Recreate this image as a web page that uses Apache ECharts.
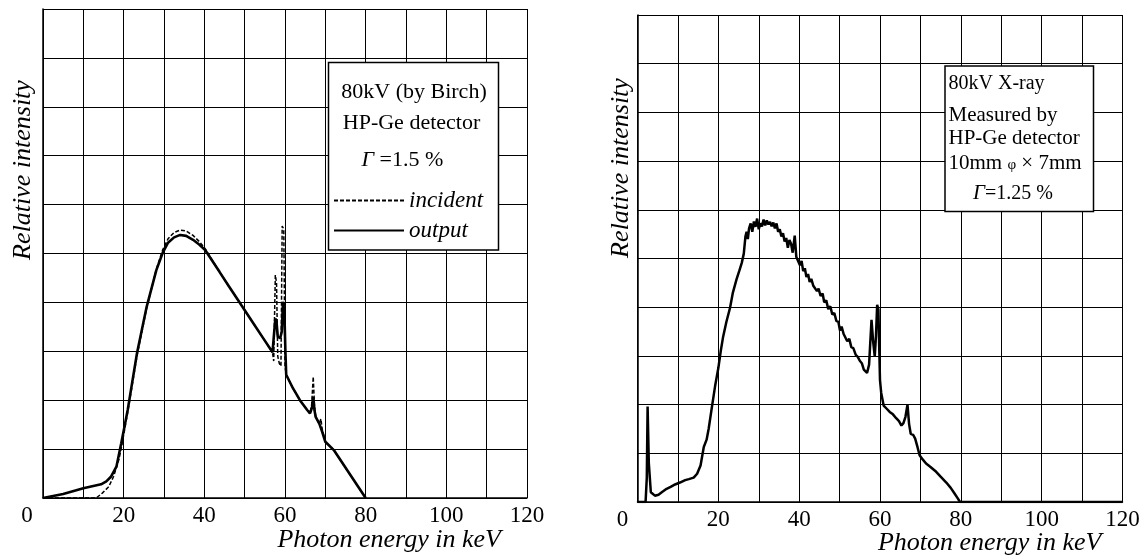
<!DOCTYPE html>
<html>
<head>
<meta charset="utf-8">
<script src="https://cdn.jsdelivr.net/npm/echarts@6/dist/echarts.min.js"></script>
<style>
  html, body { margin: 0; padding: 0; background: #ffffff; }
  #chart { width: 1148px; height: 559px; }
</style>
</head>
<body>
<div id="chart"></div>
<script>
// ---- Data -------------------------------------------------------------
// Energy axis (keV) and its labelled ticks
const energyTicks = [0, 20, 40, 60, 80, 100, 120];

// Left panel: 80 kV spectrum after Birch, incident and detector output
const incidentKeV = [0, 13.2, 14.7, 16.3, 17.5, 18.8, 19.6, 21.0, 23.3, 25.7, 28.1, 29.7, 31.0, 32.5, 34.0, 35.5, 37.2, 38.8, 40.2, 43.8, 46.0, 49.2, 52.1, 54.5, 56.9, 57.2, 57.6, 57.9, 58.2, 58.6, 59.0, 59.3, 59.7, 60.0, 60.3, 62.0, 63.7, 65.5, 66.2, 66.6, 67.0, 67.3, 67.6, 68.5, 68.9, 69.2, 70.0, 72.1, 80.0];
const incidentVal = [0, 0, 0.10, 0.23, 0.44, 0.78, 1.10, 1.75, 2.90, 3.88, 4.68, 5.08, 5.30, 5.43, 5.48, 5.46, 5.37, 5.24, 5.10, 4.62, 4.34, 3.94, 3.58, 3.28, 2.98, 2.80, 4.56, 4.40, 2.90, 2.75, 2.70, 5.56, 5.50, 2.70, 2.52, 2.24, 2.00, 1.80, 1.73, 1.90, 2.48, 1.90, 1.66, 1.52, 1.62, 1.42, 1.15, 0.98, 0];

const outputKeV = [0, 5.0, 10.0, 14.4, 15.7, 16.9, 18.2, 19.4, 21.0, 23.3, 25.7, 28.1, 29.7, 31.0, 32.5, 34.0, 35.5, 37.2, 38.8, 40.2, 43.8, 46.0, 49.2, 52.1, 54.5, 56.9, 57.3, 57.6, 57.9, 58.2, 58.8, 59.2, 59.5, 59.8, 60.1, 60.3, 62.0, 63.7, 65.5, 66.2, 66.7, 67.0, 67.3, 67.6, 68.5, 69.2, 70.0, 72.1, 80.0];
const outputVal = [0, 0.08, 0.20, 0.28, 0.34, 0.44, 0.64, 1.12, 1.80, 2.96, 3.91, 4.66, 5.02, 5.22, 5.33, 5.38, 5.36, 5.28, 5.18, 5.07, 4.62, 4.34, 3.94, 3.58, 3.28, 2.98, 3.00, 3.67, 3.60, 3.30, 3.27, 3.40, 4.01, 3.95, 3.00, 2.52, 2.24, 2.00, 1.80, 1.73, 1.85, 2.07, 1.80, 1.66, 1.52, 1.36, 1.15, 0.98, 0];

// Right panel: 80 kV spectrum measured with the HP-Ge detector
const measuredKeV = [0, 2.0, 2.3, 2.5, 2.8, 3.3, 4.3, 5.2, 6.0, 7.2, 8.2, 9.3, 10.5, 11.8, 12.7, 13.9, 14.75, 15.6, 16.4, 17.1, 17.6, 18.5, 19.2, 20.0, 20.6, 21.2, 22.0, 22.9, 23.6, 24.5, 25.2, 25.8, 26.3, 26.7, 27.0, 27.3, 27.6, 28.0, 28.4, 28.8, 29.2, 29.6, 30.0, 30.4, 30.8, 31.2, 31.6, 32.0, 32.4, 32.8, 33.2, 33.6, 34.0, 34.4, 34.8, 35.2, 35.6, 36.0, 36.4, 36.8, 37.2, 37.6, 38.0, 38.4, 38.9, 39.3, 39.6, 40.2, 40.6, 41.0, 41.4, 41.8, 42.2, 42.6, 43.0, 43.5, 43.9, 44.4, 44.8, 45.3, 45.8, 46.2, 46.7, 47.2, 47.7, 48.2, 48.7, 49.2, 49.7, 50.1, 50.5, 51.0, 51.4, 51.9, 52.4, 52.9, 53.4, 54.0, 54.5, 55.0, 55.5, 56.0, 56.4, 56.8, 57.3, 57.9, 58.3, 58.7, 59.0, 59.3, 59.6, 59.8, 60.0, 60.3, 60.9, 61.6, 62.4, 63.2, 64.0, 64.7, 65.3, 65.8, 66.3, 66.8, 67.2, 67.6, 68.2, 68.7, 69.3, 69.8, 70.5, 71.4, 72.5, 73.9, 75.0, 76.4, 77.5, 78.4, 79.2, 79.8, 90.0, 100.0, 120.0];
const measuredVal = [0, 0, 0.50, 1.96, 0.80, 0.20, 0.13, 0.15, 0.20, 0.27, 0.31, 0.36, 0.40, 0.45, 0.47, 0.50, 0.58, 0.75, 1.13, 1.28, 1.50, 2.00, 2.38, 2.75, 3.10, 3.40, 3.70, 3.99, 4.30, 4.57, 4.75, 4.91, 5.10, 5.45, 5.55, 5.40, 5.62, 5.72, 5.55, 5.76, 5.65, 5.82, 5.60, 5.72, 5.66, 5.80, 5.68, 5.78, 5.70, 5.75, 5.66, 5.74, 5.62, 5.72, 5.55, 5.60, 5.45, 5.52, 5.35, 5.42, 5.22, 5.38, 5.30, 5.12, 5.47, 5.03, 5.05, 4.86, 4.95, 4.74, 4.80, 4.62, 4.68, 4.52, 4.58, 4.44, 4.48, 4.33, 4.38, 4.23, 4.28, 4.10, 4.14, 3.96, 4.02, 3.85, 3.88, 3.72, 3.70, 3.52, 3.60, 3.45, 3.48, 3.30, 3.35, 3.18, 3.16, 3.02, 2.98, 2.90, 2.85, 2.72, 2.68, 2.65, 2.82, 3.74, 3.30, 2.99, 3.40, 4.05, 3.95, 3.20, 2.50, 2.24, 1.98, 1.92, 1.85, 1.80, 1.72, 1.66, 1.57, 1.62, 1.75, 2.00, 1.60, 1.40, 1.38, 1.30, 1.12, 0.96, 0.88, 0.79, 0.72, 0.62, 0.52, 0.40, 0.29, 0.18, 0.08, 0, 0, 0, 0];

// ---- Helpers ----------------------------------------------------------
const SERIF = '"Liberation Serif", "Times New Roman", serif';
const pairs = (xs, ys) => xs.map((x, i) => [x, ys[i]]);

function energyAxis(gridIndex, zeroPad, nameGap, namePadTop) {
  return {
    type: 'value', gridIndex, min: 0, max: 120, interval: 10,
    name: 'Photon energy in keV',
    nameLocation: 'end',
    nameGap: nameGap,
    nameMoveOverlap: false,
    nameTextStyle: {
      fontFamily: SERIF, fontStyle: 'italic', fontSize: 26, color: '#000',
      align: 'right', verticalAlign: 'top', padding: [namePadTop, 0, 0, 0]
    },
    axisLine: { show: true, lineStyle: { color: '#000', width: 1.5 } },
    axisTick: { show: false },
    splitLine: { show: true, lineStyle: { color: '#000', width: 1 } },
    axisLabel: {
      margin: 6,
      fontFamily: SERIF, fontSize: 23, color: '#000',
      formatter: v => {
        if (v === 0) return '{z|0}';
        return energyTicks.indexOf(v) >= 0 ? String(v) : '';
      },
      rich: { z: { fontFamily: SERIF, fontSize: 23, color: '#000', padding: [0, zeroPad, 0, 0] } }
    }
  };
}

function intensityAxis(gridIndex) {
  return {
    type: 'value', gridIndex, min: 0, max: 10, interval: 1,
    axisLine: { show: true, lineStyle: { color: '#000', width: 1.5 } },
    axisTick: { show: false },
    axisLabel: { show: false },
    splitLine: { show: true, lineStyle: { color: '#000', width: 1 } }
  };
}

function label(x, y, text, opts) {
  return {
    type: 'text', x, y, z: 20,
    style: Object.assign({
      text, fontFamily: SERIF, fontSize: 22, fill: '#000',
      align: 'left', verticalAlign: 'middle'
    }, opts || {})
  };
}

// ---- Chart ------------------------------------------------------------
const chart = echarts.init(document.getElementById('chart'), null, { renderer: 'canvas' });

chart.setOption({
  backgroundColor: '#ffffff',
  animation: false,
  grid: [
    { left: 43, top: 9, width: 484, height: 489, outerBoundsMode: 'none', containLabel: false },
    { left: 637.5, top: 15, width: 485, height: 487, outerBoundsMode: 'none', containLabel: false }
  ],
  xAxis: [energyAxis(0, 32, -26, 29), energyAxis(1, 30, -21, 28)],
  yAxis: [intensityAxis(0), intensityAxis(1)],
  legend: [{
    data: ['incident', 'output'],
    orient: 'vertical',
    left: 328, top: 184,
    itemWidth: 70, itemHeight: 14, itemGap: 7,
    z: 30,
    itemStyle: { opacity: 0, borderWidth: 0 },
    lineStyle: { inherit: true },
    textStyle: { fontFamily: SERIF, fontStyle: 'italic', fontSize: 23, color: '#000' },
    inactiveColor: '#000'
  }],
  series: [
    {
      name: 'incident', type: 'line', xAxisIndex: 0, yAxisIndex: 0,
      data: pairs(incidentKeV, incidentVal),
      showSymbol: false, symbol: 'none', z: 3,
      lineStyle: { color: '#000', width: 1.5, type: [4, 2] },
      itemStyle: { color: '#000' }
    },
    {
      name: 'output', type: 'line', xAxisIndex: 0, yAxisIndex: 0,
      data: pairs(outputKeV, outputVal),
      showSymbol: false, symbol: 'none', z: 4,
      lineStyle: { color: '#000', width: 2.6 },
      itemStyle: { color: '#000' }
    },
    {
      name: 'measured', type: 'line', xAxisIndex: 1, yAxisIndex: 1,
      data: pairs(measuredKeV, measuredVal),
      showSymbol: false, symbol: 'none', z: 4,
      lineStyle: { color: '#000', width: 2.5 },
      itemStyle: { color: '#000' }
    }
  ],
  graphic: [
    // axis titles
    {
      type: 'text', x: 23, y: 170, rotation: Math.PI / 2, z: 20,
      style: { text: 'Relative intensity', fontFamily: SERIF, fontStyle: 'italic', fontSize: 26,
               fill: '#000', align: 'center', verticalAlign: 'middle' }
    },
    {
      type: 'text', x: 621.5, y: 168, rotation: Math.PI / 2, z: 20,
      style: { text: 'Relative intensity', fontFamily: SERIF, fontStyle: 'italic', fontSize: 26,
               fill: '#000', align: 'center', verticalAlign: 'middle' }
    },
    // left annotation box
    {
      type: 'rect', z: 10,
      shape: { x: 328.5, y: 62.5, width: 170, height: 187.5 },
      style: { fill: '#fff', stroke: '#000', lineWidth: 1.5 }
    },
    label(414, 92, '80kV (by Birch)', { align: 'center' }),
    label(411.5, 123, 'HP-Ge detector', { align: 'center' }),
    label(361.5, 160, '{g|Γ} =1.5 %', {
      rich: { g: { fontFamily: SERIF, fontStyle: 'italic', fontSize: 22, fill: '#000' } }
    }),
    // right annotation box
    {
      type: 'rect', z: 10,
      shape: { x: 945, y: 66, width: 148.5, height: 145.5 },
      style: { fill: '#fff', stroke: '#000', lineWidth: 1.5 }
    },
    label(948.5, 83.5, '80kV X-ray', { fontSize: 20 }),
    label(948.5, 115, 'Measured by', { fontSize: 21 }),
    label(948.5, 138.5, 'HP-Ge detector', { fontSize: 21 }),
    label(948.5, 163.5, '10mm {p|φ} × 7mm', {
      fontSize: 21,
      rich: { p: { fontFamily: SERIF, fontSize: 15, fill: '#000', padding: [4, 0, 0, 0] } }
    }),
    label(973, 193.5, '{g|Γ}=1.25 %', {
      fontSize: 20,
      rich: { g: { fontFamily: SERIF, fontStyle: 'italic', fontSize: 21, fill: '#000' } }
    })
  ]
});
</script>
</body>
</html>
